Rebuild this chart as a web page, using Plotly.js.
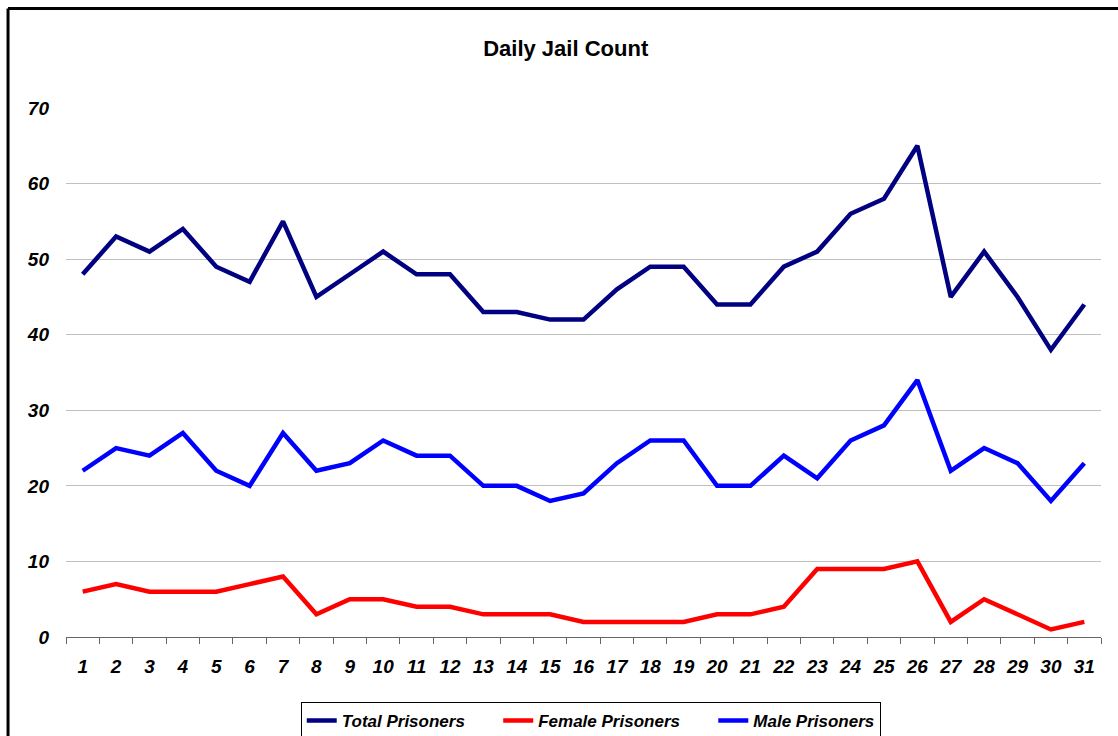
<!DOCTYPE html>
<html>
<head>
<meta charset="utf-8">
<script src="https://cdn.plot.ly/plotly-3.0.1.min.js"></script>
<style>html,body{margin:0;padding:0;background:#fff}#chart{width:1118px;height:736px}</style>
</head>
<body>
<div id="chart"></div>
<script>
const days = ["1","2","3","4","5","6","7","8","9","10","11","12","13","14","15","16","17","18","19","20","21","22","23","24","25","26","27","28","29","30","31"];
const totalPrisoners = [48,53,51,54,49,47,55,45,48,51,48,48,43,43,42,42,46,49,49,44,44,49,51,56,58,65,45,51,45,38,44];
const femalePrisoners = [6,7,6,6,6,7,8,3,5,5,4,4,3,3,3,2,2,2,2,3,3,4,9,9,9,10,2,5,3,1,2];
const malePrisoners = [22,25,24,27,22,20,27,22,23,26,24,24,20,20,18,19,23,26,26,20,20,24,21,26,28,34,22,25,23,18,23];
const yTicks = [0,10,20,30,40,50,60,70];
const seriesNames = ["Total Prisoners", "Female Prisoners", "Male Prisoners"];

const font = "'Liberation Sans', Arial, sans-serif";
const pad = "\u00a0\u00a0\u00a0\u00a0\u00a0\u00a0";
const traces = [
  {x: days, y: totalPrisoners, name: seriesNames[0] + pad, type: "scatter", mode: "lines", line: {color: "#000080", width: 4.5}},
  {x: days, y: femalePrisoners, name: seriesNames[1] + pad, type: "scatter", mode: "lines", line: {color: "#ff0000", width: 4.5}},
  {x: days, y: malePrisoners, name: seriesNames[2], type: "scatter", mode: "lines", line: {color: "#0000ff", width: 4.5}}
];
const layout = {
  width: 1118, height: 736,
  margin: {l: 66, r: 17, t: 108, b: 99, autoexpand: false},
  paper_bgcolor: "#fff", plot_bgcolor: "#fff",
  title: {text: "<b>Daily Jail Count</b>", font: {family: font, size: 22, color: "#000"}, x: 0.506, xanchor: "center", y: 0.935, yanchor: "middle", yref: "container"},
  xaxis: {type: "category", range: [-0.5, 30.5], tickson: "boundaries", ticks: "outside", ticklen: 6, tickcolor: "#666", showline: true, linecolor: "#666", linewidth: 1, showgrid: false, zeroline: false, ticklabelstandoff: 12,
          tickfont: {family: font, size: 19, color: "#000", weight: "bold", style: "italic"}},
  yaxis: {range: [0, 70], tickvals: yTicks, ticktext: yTicks.map(String), showgrid: true, gridcolor: "#c0c0c0", gridwidth: 1, zeroline: false, showline: false, ticks: "", ticklabelstandoff: 16,
          tickfont: {family: font, size: 19, color: "#000", weight: "bold", style: "italic"}},
  showlegend: true,
  legend: {orientation: "h", x: 0.507, xanchor: "center", y: -0.123, yanchor: "top", bordercolor: "#000", borderwidth: 1, bgcolor: "#fff",
           font: {family: font, size: 17, color: "#000", weight: "bold", style: "italic"}},
  shapes: [
    {type: "line", xref: "paper", yref: "paper", x0: -0.056, x1: 1.1, y0: 1.188, y1: 1.188, line: {color: "#000", width: 3}},
    {type: "line", xref: "paper", yref: "paper", x0: -0.056, x1: -0.056, y0: 1.188, y1: -0.3, line: {color: "#000", width: 3}}
  ]
};
Plotly.newPlot("chart", traces, layout, {displayModeBar: false, staticPlot: true});
</script>
</body>
</html>
